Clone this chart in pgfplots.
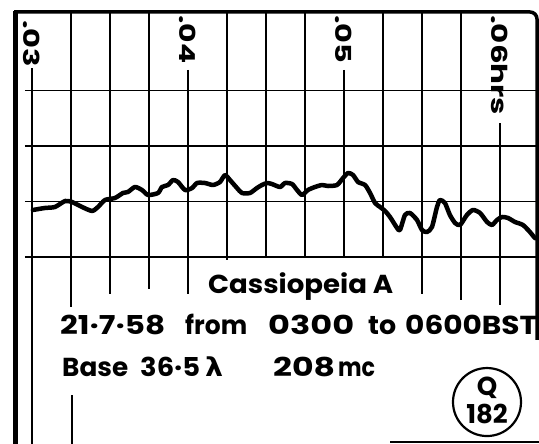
\documentclass[border=0pt]{standalone}
\usepackage{fontspec}
\setmainfont{Poppins}
\newfontfamily\greekfont{DejaVu Sans}
\usepackage{graphicx}
\usepackage{pgfplots}
\pgfplotsset{compat=1.18}

% set a word to a given width, keeping its height
\newcommand{\fitw}[2]{\resizebox{#1pt}{\height}{#2}}

% Chart recorder trace: time in hours, deflection in chart divisions
\begin{document}
\begin{tikzpicture}
\begin{axis}[
  scale only axis, width=521pt, height=432pt,
  xmin=0.028974, xmax=0.062372, ymin=-3.369, ymax=4.414,
  hide axis, clip=false,
]
\coordinate (SW) at (rel axis cs:0,0);

% frame of the recorder paper
\draw[line width=5pt] (axis cs:0.028974,-3.4) -- (axis cs:0.028974,4.44);
\draw[line width=3.5pt, rounded corners=7pt]
  (axis cs:0.028846,4.414) -- (axis cs:0.062372,4.414) -- (axis cs:0.062372,-1.495);
\draw[line width=2.5pt] (axis cs:0.05295,-3.333) -- (axis cs:0.0625,-3.333);

% horizontal rulings
\pgfplotsinvokeforeach{0,1,2,3}{
  \draw[line width=1.6pt] (axis cs:0.02955,#1) -- (axis cs:0.062372,#1);
}

% vertical rulings every 0.0025 h, with their lower ends
\draw[line width=1.6pt] (axis cs:0.0300,3.40) -- (axis cs:0.0300,-3.40);
\draw[line width=1.6pt] (axis cs:0.0325,4.41) -- (axis cs:0.0325,-0.90);
\draw[line width=1.6pt] (axis cs:0.0350,4.41) -- (axis cs:0.0350,-0.667);
\draw[line width=1.6pt] (axis cs:0.0375,4.41) -- (axis cs:0.0375,-0.577);
\draw[line width=1.6pt] (axis cs:0.0400,3.37) -- (axis cs:0.0400,-0.667);
\draw[line width=1.6pt] (axis cs:0.0425,4.41) -- (axis cs:0.0425,-0.054);
\draw[line width=1.6pt] (axis cs:0.0450,4.41) -- (axis cs:0.0450,0);
\draw[line width=1.6pt] (axis cs:0.0475,4.41) -- (axis cs:0.0475,0);
\draw[line width=1.6pt] (axis cs:0.0500,3.37) -- (axis cs:0.0500,0);
\draw[line width=1.6pt] (axis cs:0.0525,4.41) -- (axis cs:0.0525,0);
\draw[line width=1.6pt] (axis cs:0.0550,4.41) -- (axis cs:0.0550,-0.667);
\draw[line width=1.6pt] (axis cs:0.0575,4.41) -- (axis cs:0.0575,-0.775);
\draw[line width=1.6pt] (axis cs:0.0600,2.41) -- (axis cs:0.0600,-0.865);
\draw[line width=1.6pt] (axis cs:0.032564,-2.49) -- (axis cs:0.032564,-3.40);

% hour marks
\tikzset{hr/.style={rotate=-90, anchor=west, inner sep=0pt,
  font=\fontsize{22}{26}\selectfont\bfseries}}
\node[hr] at (axis cs:0.0300,4.27) {\fitw{47}{.03}};
\node[hr] at (axis cs:0.0400,4.36) {\fitw{48}{.04}};
\node[hr] at (axis cs:0.0500,4.36) {\fitw{48}{.05}};
\node[hr] at (axis cs:0.0600,4.36) {\fitw{100}{.06hrs}};

% recorded output
\addplot[black, line width=4.5pt, smooth, tension=0.4, line join=round, line cap=round]
coordinates {
(0.03006,0.847) (0.03083,0.883) (0.03147,0.901) (0.03212,1.009) (0.03256,0.991)
(0.03321,0.901) (0.03385,0.829) (0.03423,0.901) (0.03468,1.027) (0.03532,1.063)
(0.03583,1.153) (0.03615,1.171) (0.03660,1.261) (0.03705,1.207) (0.03744,1.117)
(0.03808,1.153) (0.03833,1.261) (0.03872,1.297) (0.03904,1.387) (0.03936,1.351)
(0.03981,1.207) (0.04026,1.243) (0.04058,1.333) (0.04109,1.333) (0.04160,1.297)
(0.04205,1.351) (0.04237,1.477) (0.04269,1.387) (0.04314,1.243) (0.04346,1.153)
(0.04397,1.153) (0.04442,1.243) (0.04474,1.297) (0.04506,1.333) (0.04538,1.315)
(0.04590,1.261) (0.04622,1.333) (0.04667,1.315) (0.04699,1.207) (0.04731,1.117)
(0.04769,1.207) (0.04814,1.261) (0.04859,1.297) (0.04897,1.279) (0.04955,1.297)
(0.04994,1.423) (0.05026,1.514) (0.05058,1.477) (0.05090,1.351) (0.05135,1.297)
(0.05167,1.153) (0.05199,0.973) (0.05231,0.901) (0.05263,0.829) (0.05295,0.721)
(0.05340,0.523) (0.05359,0.486) (0.05391,0.757) (0.05423,0.793) (0.05468,0.667)
(0.05500,0.486) (0.05532,0.450) (0.05564,0.541) (0.05596,0.901) (0.05615,1.027)
(0.05647,0.973) (0.05679,0.757) (0.05712,0.613) (0.05744,0.577) (0.05788,0.757)
(0.05827,0.847) (0.05872,0.793) (0.05917,0.631) (0.05949,0.577) (0.05981,0.667)
(0.06013,0.721) (0.06051,0.703) (0.06096,0.631) (0.06147,0.577) (0.06192,0.450)
(0.06224,0.342) (0.06237,0.342)
};

% annotations written on the record
\tikzset{txt/.style={anchor=base west, inner sep=0pt,
  font=\fontsize{26}{30}\selectfont\bfseries}}
\node[txt] at (axis cs:0.041282,-0.649) {\fitw{185}{Cassiopeia A}};
\node[txt] at (axis cs:0.031795,-1.405) {\fitw{105}{21·7·58}};
\node[txt] at (axis cs:0.039808,-1.405) {\fitw{62}{from}};
\node[txt] at (axis cs:0.045128,-1.405) {\fitw{86}{0300}};
\node[txt] at (axis cs:0.051538,-1.405) {\fitw{28}{to}};
\node[txt] at (axis cs:0.053910,-1.405) {\fitw{132}{0600BST}};
\node[txt] at (axis cs:0.031923,-2.162) {\fitw{66}{Base}};
\node[txt] at (axis cs:0.036923,-2.162) {\fitw{60}{36·5}};
\node[txt] at (axis cs:0.041090,-2.162) {\fitw{18}{\greekfont λ}};
\node[txt] at (axis cs:0.045449,-2.162) {\fitw{62}{208}};
\node[txt] at (axis cs:0.049615,-2.162) {\fitw{37}{mc}};

\draw[line width=2.2pt] (axis cs:0.059167,-2.613) circle[radius=34pt];
\node[font=\fontsize{26}{28}\selectfont\bfseries, inner sep=0pt] at (axis cs:0.059167,-2.35) {Q};
\node[font=\fontsize{26}{28}\selectfont\bfseries, inner sep=0pt] at (axis cs:0.059167,-2.83) {182};
\end{axis}
\pgfresetboundingbox
\path ([xshift=-16pt]SW) rectangle ++(539pt,444pt);
\end{tikzpicture}
\end{document}
